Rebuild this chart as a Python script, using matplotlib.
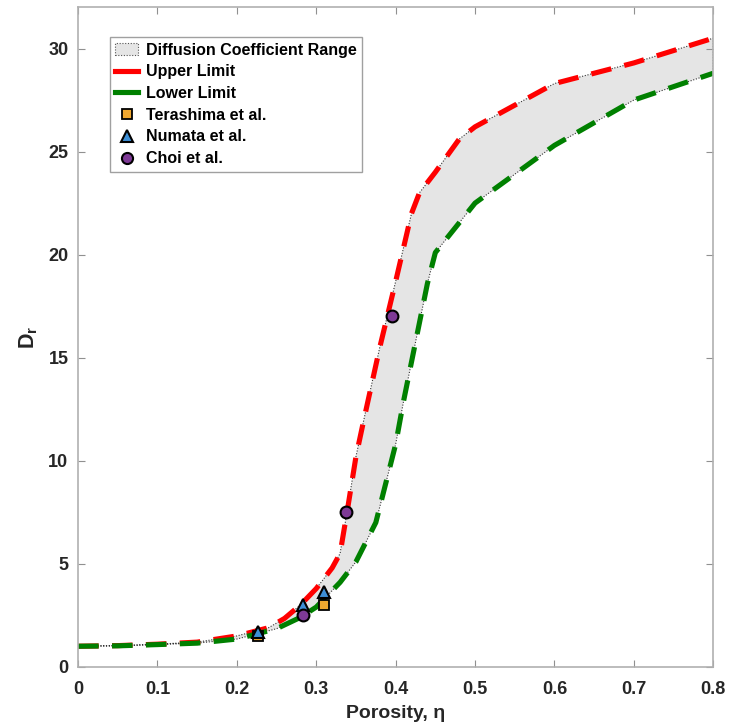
import matplotlib
matplotlib.use("Agg")
import matplotlib.pyplot as plt
from matplotlib.patches import Patch
from matplotlib.lines import Line2D

plt.rcParams['font.family'] = ['Liberation Sans', 'DejaVu Sans']
plt.rcParams['mathtext.fontset'] = 'custom'
plt.rcParams['mathtext.bf'] = 'Liberation Sans:bold'
plt.rcParams['mathtext.rm'] = 'Liberation Sans'

# Upper and lower limits of the relative diffusion coefficient
upper_eta = [0, 0.05, 0.1, 0.15, 0.2, 0.24, 0.26, 0.28, 0.3, 0.32, 0.33, 0.34, 0.35,
             0.36, 0.38, 0.4, 0.42, 0.43, 0.45, 0.48, 0.5, 0.6, 0.7, 0.8]
upper_D = [1.0, 1.03, 1.1, 1.2, 1.5, 1.9, 2.35, 3.0, 3.8, 4.8, 5.5, 7.8, 10.2,
           12.0, 15.5, 18.7, 22.0, 23.0, 24.0, 25.6, 26.2, 28.3, 29.3, 30.5]

lower_eta = [0, 0.05, 0.1, 0.15, 0.2, 0.25, 0.28, 0.3, 0.33, 0.35, 0.375, 0.4,
             0.41, 0.44, 0.45, 0.5, 0.6, 0.7, 0.8]
lower_D = [1.0, 1.02, 1.08, 1.15, 1.35, 1.85, 2.4, 2.9, 4.1, 5.1, 7.0, 10.8,
           12.9, 18.6, 20.1, 22.5, 25.3, 27.5, 28.8]

# Experimental data
terashima_eta = [0.226, 0.31]
terashima_D = [1.5, 3.0]
numata_eta = [0.226, 0.283, 0.31]
numata_D = [1.7, 3.0, 3.65]
choi_eta = [0.283, 0.337, 0.395]
choi_D = [2.5, 7.5, 17.0]

x_ticks = [0, 0.1, 0.2, 0.3, 0.4, 0.5, 0.6, 0.7, 0.8]
x_tick_labels = ['0', '0.1', '0.2', '0.3', '0.4', '0.5', '0.6', '0.7', '0.8']
y_ticks = [0, 5, 10, 15, 20, 25, 30]

fig = plt.figure(figsize=(7.30, 7.28), dpi=100)
ax = fig.add_axes([0.107, 0.084, 0.870, 0.906])

# Shaded range between limits
poly_x = upper_eta + lower_eta[::-1]
poly_y = upper_D + lower_D[::-1]
ax.fill(poly_x, poly_y, facecolor='#e5e5e5', edgecolor='#333333',
        linestyle=(0, (1, 1.5)), linewidth=0.8, zorder=1)

dash = (0, (4, 2.6))
ax.plot(upper_eta, upper_D, color='#ff0000', linestyle=dash, linewidth=3.7, zorder=2)
ax.plot(lower_eta, lower_D, color='#008000', linestyle=dash, linewidth=3.7, zorder=2)

ax.plot(terashima_eta, terashima_D, linestyle='none', marker='s', markersize=7.5,
        markerfacecolor='#f0a830', markeredgecolor='black', markeredgewidth=1.3, zorder=3)
ax.plot(numata_eta, numata_D, linestyle='none', marker='^', markersize=9,
        markerfacecolor='#3d8fd6', markeredgecolor='black', markeredgewidth=1.5, zorder=4)
ax.plot(choi_eta, choi_D, linestyle='none', marker='o', markersize=8.5,
        markerfacecolor='#7e3a96', markeredgecolor='black', markeredgewidth=1.5, zorder=5)

ax.set_xlim(0, 0.8)
ax.set_ylim(0, 32)
ax.set_xticks(x_ticks)
ax.set_xticklabels(x_tick_labels)
ax.set_yticks(y_ticks)

for s in ax.spines.values():
    s.set_color('#b0b0b0')
    s.set_linewidth(1.2)
ax.tick_params(direction='in', length=5, width=0.8, color='#909090',
               top=True, right=True, labelsize=13, labelcolor='#262626')
ax.tick_params(axis='x', pad=10)
ax.tick_params(axis='y', pad=7)
for lab in ax.get_xticklabels() + ax.get_yticklabels():
    lab.set_fontweight('bold')

ax.set_xlabel('Porosity, η', fontsize=14, fontweight='bold', color='#262626', labelpad=5)
ax.set_ylabel(r'$\mathbf{D}_{\mathbf{r}}$', fontsize=15.5, color='#262626', labelpad=6)

handles = [
    Patch(facecolor='#e5e5e5', edgecolor='#555555', linestyle=(0, (1, 1.5)), linewidth=0.8),
    Line2D([], [], color='#ff0000', linewidth=3.7),
    Line2D([], [], color='#008000', linewidth=3.7),
    Line2D([], [], linestyle='none', marker='s', markersize=7, markerfacecolor='#f0a830',
           markeredgecolor='black', markeredgewidth=1.3),
    Line2D([], [], linestyle='none', marker='^', markersize=9, markerfacecolor='#3d8fd6',
           markeredgecolor='black', markeredgewidth=1.5),
    Line2D([], [], linestyle='none', marker='o', markersize=8, markerfacecolor='#7e3a96',
           markeredgecolor='black', markeredgewidth=1.5),
]
labels = ['Diffusion Coefficient Range', 'Upper Limit', 'Lower Limit',
          'Terashima et al.', 'Numata et al.', 'Choi et al.']
leg = ax.legend(handles, labels, loc='upper left', bbox_to_anchor=(0.05, 0.955),
                fancybox=False, framealpha=1, edgecolor='#a0a0a0',
                prop={'weight': 'bold', 'size': 11.5}, handlelength=1.4,
                handletextpad=0.5, labelspacing=0.42, borderpad=0.35, borderaxespad=0)
leg.get_frame().set_linewidth(1.0)

fig.savefig('out.png', dpi=100)
